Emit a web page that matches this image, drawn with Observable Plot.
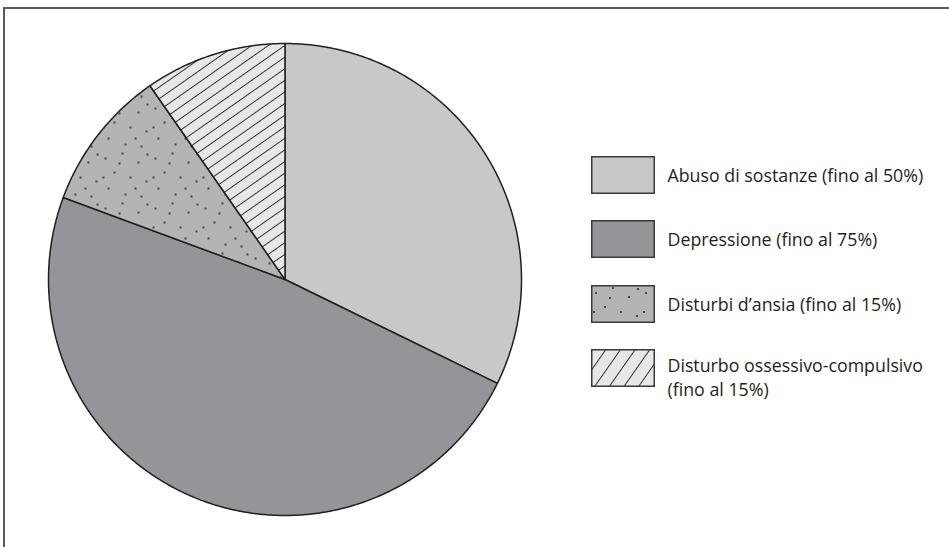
<!DOCTYPE html>
<html>
<head>
<meta charset="utf-8">
<script src="https://cdn.jsdelivr.net/npm/d3@7"></script>
<script src="https://cdn.jsdelivr.net/npm/@observablehq/plot@0.6"></script>
<style>
  html, body { margin: 0; padding: 0; background: #fff; overflow: hidden; }
  #wrap { position: relative; width: 949px; height: 547px; overflow: hidden; font-family: "Open Sans", "Noto Sans", sans-serif; }
  #frame { position: absolute; left: 3px; top: 7px; width: 1000px; height: 600px; border-top: 2px solid #58595b; border-left: 2px solid #58595b; }
  #chart { position: absolute; left: 0; top: 0; }
  #legend { position: absolute; left: 591px; top: 156px; }
  .item { display: flex; align-items: flex-start; margin-bottom: 26.3px; }
  .item svg { flex: none; display: block; }
  .label { margin-left: 12.5px; font-size: 17.8px; line-height: 24px; color: #231f20; white-space: pre-line; }
</style>
</head>
<body>
<div id="wrap">
  <div id="frame"></div>
  <div id="chart"></div>
  <div id="legend"></div>
</div>
<script>
// ---- data ----
const categories = ["Abuso di sostanze", "Depressione", "Disturbi d’ansia", "Disturbo ossessivo-compulsivo"];
const values = [50, 75, 15, 15];
const labels = ["Abuso di sostanze (fino al 50%)", "Depressione (fino al 75%)", "Disturbi d’ansia (fino al 15%)", "Disturbo ossessivo-compulsivo\n(fino al 15%)"];
const fills = ["#c7c8ca", "#939598", "url(#dots)", "url(#hatch)"];
const legendFills = ["#c7c8ca", "#939598", "url(#dotsL)", "url(#hatchL)"];

// ---- pie geometry from the data (angles clockwise from 12 o'clock) ----
const arcs = d3.pie().sort(null).value(d => d)(values);
const points = [];
arcs.forEach((a, i) => {
  const cat = categories[i];
  points.push({cat, x: 0, y: 0});
  const n = Math.max(2, Math.ceil((a.endAngle - a.startAngle) / (Math.PI / 360)));
  for (let k = 0; k <= n; k++) {
    const t = a.startAngle + (a.endAngle - a.startAngle) * k / n;
    points.push({cat, x: Math.sin(t), y: Math.cos(t)});
  }
});

const svg = Plot.plot({
  width: 949,
  height: 547,
  marginLeft: 48,
  marginRight: 428,
  marginTop: 43,
  marginBottom: 32,
  x: {domain: [-1, 1], axis: null},
  y: {domain: [-1, 1], axis: null},
  color: {type: "ordinal", domain: categories, range: fills},
  style: {background: "transparent", overflow: "visible"},
  marks: [
    Plot.line(points, {x: "x", y: "y", z: "cat", fill: "cat", stroke: "#231f20", strokeWidth: 1.5, strokeLinejoin: "round", curve: "linear-closed"})
  ]
});

// pattern definitions
const dotPos = [[5,8],[22,3],[38,12],[14,22],[30,27],[46,31],[8,38],[25,44],[41,46],[19,13],[3,27],[35,38],[47,4]];
function dotsPattern(id) {
  return `<pattern id="${id}" patternUnits="userSpaceOnUse" width="50" height="50">
    <rect width="50" height="50" fill="#b2b4b6"/>
    ${dotPos.map(([x,y]) => `<circle cx="${x}" cy="${y}" r="1" fill="#231f20"/>`).join("")}
  </pattern>`;
}
function hatchPattern(id, w, rot) {
  return `<pattern id="${id}" patternUnits="userSpaceOnUse" width="${w}" height="${w}" patternTransform="rotate(${rot})">
    <rect width="${w}" height="${w}" fill="#e6e7e8"/>
    <line x1="0.5" y1="0" x2="0.5" y2="${w}" stroke="#231f20" stroke-width="0.9"/>
  </pattern>`;
}
svg.insertAdjacentHTML("afterbegin", `<defs>
  ${dotsPattern("dots")}${dotsPattern("dotsL")}
  ${hatchPattern("hatch", 9.5, 55)}${hatchPattern("hatchL", 12, 35)}
</defs>`);
document.getElementById("chart").appendChild(svg);

// legend
const legend = document.getElementById("legend");
labels.forEach((lab, i) => {
  const item = document.createElement("div");
  item.className = "item";
  item.innerHTML = `<svg width="64" height="38"><rect x="0.75" y="0.75" width="62.5" height="36.5" fill="${legendFills[i]}" stroke="#3a3a3a" stroke-width="1.5"/></svg><div class="label" style="padding-top:${lab.includes("\n") ? 4 : 7}px">${lab}</div>`;
  legend.appendChild(item);
});
</script>
</body>
</html>
